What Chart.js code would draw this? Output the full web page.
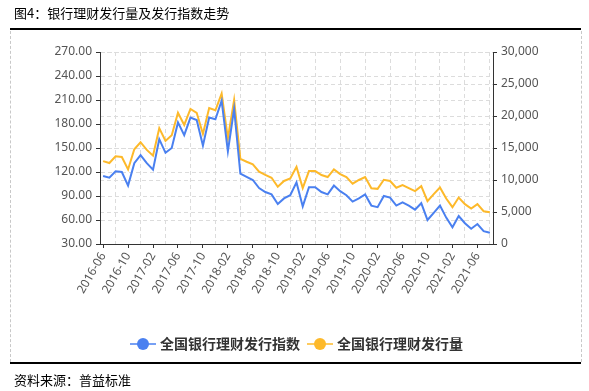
<!DOCTYPE html>
<html>
<head>
<meta charset="utf-8">
<script src="https://cdn.jsdelivr.net/npm/chart.js@4.4.1/dist/chart.umd.min.js"></script>
<style>
  html, body { margin: 0; padding: 0; background: #fff; }
  #wrap { position: relative; width: 589px; height: 391px; overflow: hidden; }
  #c { position: absolute; left: 0; top: 0; }
  .txt { position: absolute; font-family: "Noto Sans CJK SC", sans-serif; font-size: 13px; color: #000; white-space: nowrap; line-height: 1; }
  .hline { position: absolute; left: 10px; width: 571px; height: 2px; background: #000; }
  .vdash { position: absolute; top: 31px; height: 331px; width: 0; border-left: 1px dashed #c8c8c8; }
</style>
</head>
<body>
<div id="wrap">
  <canvas id="c" width="589" height="391"></canvas>
  <div class="txt" style="left:14px; top:6px;">图4：银行理财发行量及发行指数走势</div>
  <div class="hline" style="top:28px;"></div>
  <div class="vdash" style="left:10px;"></div>
  <div class="vdash" style="left:581px;"></div>
  <div class="hline" style="top:362px;"></div>
  <div class="txt" style="left:14px; top:373px;">资料来源：普益标准</div>
</div>
<script>
// 月份 2016-06 ~ 2021-08
const months = [
  '2016-06','2016-07','2016-08','2016-09','2016-10','2016-11','2016-12',
  '2017-01','2017-02','2017-03','2017-04','2017-05','2017-06','2017-07','2017-08','2017-09','2017-10','2017-11','2017-12',
  '2018-01','2018-02','2018-03','2018-04','2018-05','2018-06','2018-07','2018-08','2018-09','2018-10','2018-11','2018-12',
  '2019-01','2019-02','2019-03','2019-04','2019-05','2019-06','2019-07','2019-08','2019-09','2019-10','2019-11','2019-12',
  '2020-01','2020-02','2020-03','2020-04','2020-05','2020-06','2020-07','2020-08','2020-09','2020-10','2020-11','2020-12',
  '2021-01','2021-02','2021-03','2021-04','2021-05','2021-06','2021-07','2021-08'
];

// 全国银行理财发行指数 (左轴)
const indexValues = [
  115, 113, 121, 120, 103, 131, 141,
  131, 123, 161, 144, 150, 182, 166, 188, 185, 153, 188, 186,
  209, 146, 199, 118, 114, 110, 100, 95, 92, 80, 87, 91,
  107, 77, 101, 101, 95, 92, 103, 96, 91, 83, 87, 92,
  78, 76, 90, 88, 78, 82, 78, 73, 81, 60, 69, 78,
  63, 51, 65, 56, 49, 55, 46, 44
];

// 全国银行理财发行量 (右轴)
const volumeValues = [
  12950, 12650, 13700, 13600, 11650, 14800, 15900,
  14700, 13800, 18100, 16100, 17000, 20500, 18600, 21100, 20500, 17200, 21250, 20900,
  23500, 16500, 22500, 13300, 12850, 12450, 11300, 10800, 10350, 8950, 9850, 10250,
  12050, 8750, 11400, 11400, 10780, 10460, 11660, 10930, 10460, 9420, 10000, 10460,
  8720, 8620, 10040, 9840, 8790, 9200, 8730, 8260, 9040, 6700, 7790, 8830,
  7110, 5750, 7260, 6220, 5540, 6220, 5120, 4970
];

const leftTicks = { min: 30, max: 270, step: 30 };
const rightTicks = { min: 0, max: 30000, step: 5000 };

const BLUE = '#4a80f0';
const YELLOW = '#fdb92a';
const GRID = '#dcdcdc';
const AXIS = '#333';
const LABEL = '#555';

function legendMarker(color) {
    const cv = document.createElement('canvas');
    cv.width = 26; cv.height = 14;
    const g = cv.getContext('2d');
    g.globalAlpha = 0.75;
    g.strokeStyle = color;
    g.lineWidth = 2;
    g.beginPath(); g.moveTo(0, 7); g.lineTo(26, 7); g.stroke();
    g.globalAlpha = 1;
    g.fillStyle = color;
    g.beginPath(); g.arc(13, 7, 6, 0, Math.PI * 2); g.fill();
    return cv;
}
const markers = [legendMarker(BLUE), legendMarker(YELLOW)];

Chart.defaults.font.family = '"Noto Sans", sans-serif';
Chart.defaults.font.size = 12;

new Chart(document.getElementById('c'), {
    type: 'line',
    data: {
        labels: months,
        datasets: [
            {
                label: '全国银行理财发行指数',
                data: indexValues,
                yAxisID: 'yL',
                borderColor: BLUE,
                backgroundColor: BLUE,
                borderWidth: 2,
                pointRadius: 0,
                tension: 0
            },
            {
                label: '全国银行理财发行量',
                data: volumeValues,
                yAxisID: 'yR',
                borderColor: YELLOW,
                backgroundColor: YELLOW,
                borderWidth: 2,
                pointRadius: 0,
                tension: 0
            }
        ]
    },
    options: {
        responsive: false,
        animation: false,
        layout: { padding: { top: 52, left: 7, right: 0, bottom: 30 } },
        plugins: {
            tooltip: { enabled: false },
            legend: {
                position: 'bottom',
                labels: {
                    usePointStyle: true,
                    pointStyleWidth: 20,
                    padding: 10,
                    color: '#333',
                    font: { family: '"Noto Sans CJK SC", sans-serif', size: 14, weight: 'bold' },
                    generateLabels(chart) {
                        const items = Chart.defaults.plugins.legend.labels.generateLabels(chart);
                        items.forEach((it, i) => { it.pointStyle = markers[i]; });
                        return items;
                    }
                }
            }
        },
        scales: {
            x: {
                offset: true,
                afterFit(s) { s.height = 83; },
                grid: {
                    offset: false,
                    color: c => (c.index % 4 === 2 ? GRID : 'transparent'),
                    tickColor: c => (c.index % 4 === 0 ? AXIS : 'transparent'),
                    tickLength: 4
                },
                border: { color: AXIS, dash: [4, 3] },
                ticks: {
                    autoSkip: false,
                    minRotation: 60,
                    maxRotation: 60,
                    padding: 2,
                    color: LABEL,
                    font: { size: 12 },
                    callback(v, i) { return i % 4 === 0 ? months[i] : ''; }
                }
            },
            yL: {
                position: 'left',
                min: leftTicks.min,
                max: leftTicks.max,
                afterFit(s) { s.width = 93; },
                grid: { color: GRID, tickColor: AXIS, tickLength: 4 },
                border: { color: AXIS, dash: [4, 3] },
                ticks: {
                    stepSize: leftTicks.step,
                    padding: 4,
                    color: LABEL,
                    font: { size: 12 },
                    callback: v => Number(v).toFixed(2)
                }
            },
            yR: {
                position: 'right',
                min: rightTicks.min,
                max: rightTicks.max,
                afterFit(s) { s.width = 96; },
                grid: { color: GRID, tickColor: AXIS, tickLength: 4 },
                border: { color: AXIS, dash: [4, 3] },
                ticks: {
                    stepSize: rightTicks.step,
                    padding: 4,
                    color: LABEL,
                    font: { size: 12 },
                    callback: v => Number(v).toLocaleString('en-US')
                }
            }
        }
    }
});
</script>
</body>
</html>
